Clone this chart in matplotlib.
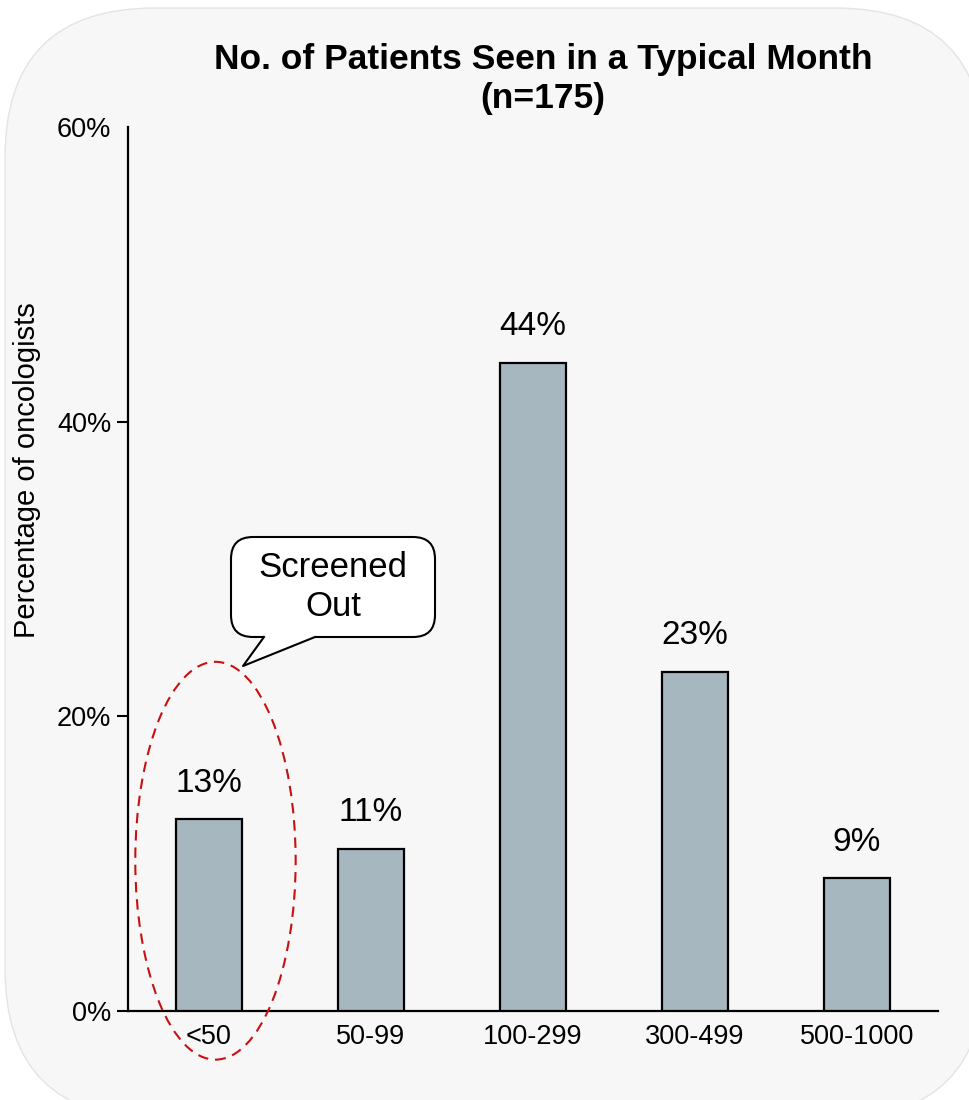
import matplotlib
matplotlib.use('Agg')
import matplotlib.pyplot as plt
from matplotlib.patches import FancyBboxPatch, Ellipse, Polygon
from matplotlib.lines import Line2D
from matplotlib.transforms import Affine2D

plt.rcParams['font.family'] = ['Liberation Sans', 'DejaVu Sans']

categories = ['<50', '50-99', '100-299', '300-499', '500-1000']
values = [13, 11, 44, 23, 9]
bar_labels = ['13%', '11%', '44%', '23%', '9%']
yticks = [0, 20, 40, 60]
ytick_labels = ['0%', '20%', '40%', '60%']

fig = plt.figure(figsize=(9.7, 11), dpi=100)
# pixel coords, origin top-left
pix = Affine2D().scale(1, -1).translate(0, 1100)

# rounded grey panel
bg = FancyBboxPatch((5, 8), 980, 1110, boxstyle='round,pad=0,rounding_size=150',
                    fc='#f7f7f7', ec='#e4e4e4', lw=1, transform=pix, zorder=-5)
fig.patches.append(bg)

ax = fig.add_axes([128/970, 1 - 1011/1100, (938-128)/970, (1011-127)/1100])
ax.patch.set_visible(False)

x = range(len(categories))
ax.bar(x, values, width=0.41, color='#a7b7c0', edgecolor='black', linewidth=1.6, zorder=3)

for i, v in enumerate(values):
    ax.annotate(bar_labels[i], (i, v), xytext=(0, 20), textcoords='offset points',
                ha='center', va='baseline', fontsize=24)

ax.set_xlim(-0.5, 4.5)
ax.set_ylim(0, 60)
ax.set_xticks(list(x))
ax.set_xticklabels(categories, fontsize=19.5)
ax.set_yticks(yticks)
ax.set_yticklabels(ytick_labels, fontsize=19.5)
ax.tick_params(axis='x', length=0, pad=9)
ax.tick_params(axis='y', length=8, width=1.5, pad=4)
ax.yaxis.get_major_ticks()[-1].tick1line.set_visible(False)

for s in ['top', 'right']:
    ax.spines[s].set_visible(False)
ax.spines['left'].set_linewidth(1.6)
ax.spines['bottom'].set_linewidth(1.6)

fig.text(543/970, 1 - 79/1100, 'No. of Patients Seen in a Typical Month\n(n=175)',
         ha='center', va='center', fontsize=25.5, fontweight='bold', linespacing=1.25)
fig.text(27/970, 1 - 470/1100, 'Percentage of oncologists', rotation=90,
         ha='center', va='center', fontsize=21)

# dashed ellipse around the first bar
ell = Ellipse((0.04, 10.2), 0.99, 27, fill=False, ec='#c81010', lw=1.5,
              linestyle=(0, (5, 3.3)), clip_on=False, zorder=4)
ax.add_patch(ell)

# speech bubble
box = FancyBboxPatch((231, 537), 204, 100, boxstyle='round,pad=0,rounding_size=22',
                     fc='white', ec='black', lw=1.5, transform=pix, zorder=5)
fig.patches.append(box)
tail = Polygon([(264, 630), (264, 637.5), (243, 666), (315, 637.5), (315, 630)],
               closed=True, fc='white', ec='none', transform=pix, zorder=6)
fig.patches.append(tail)
fig.lines.append(Line2D([264, 243, 315], [637, 666, 637], color='black', lw=1.5,
                        transform=pix, zorder=7))
fig.text(333/970, 1 - 587/1100, 'Screened\nOut', ha='center', va='center',
         fontsize=25, linespacing=1.2, zorder=8)

fig.savefig('out.png', dpi=100)
